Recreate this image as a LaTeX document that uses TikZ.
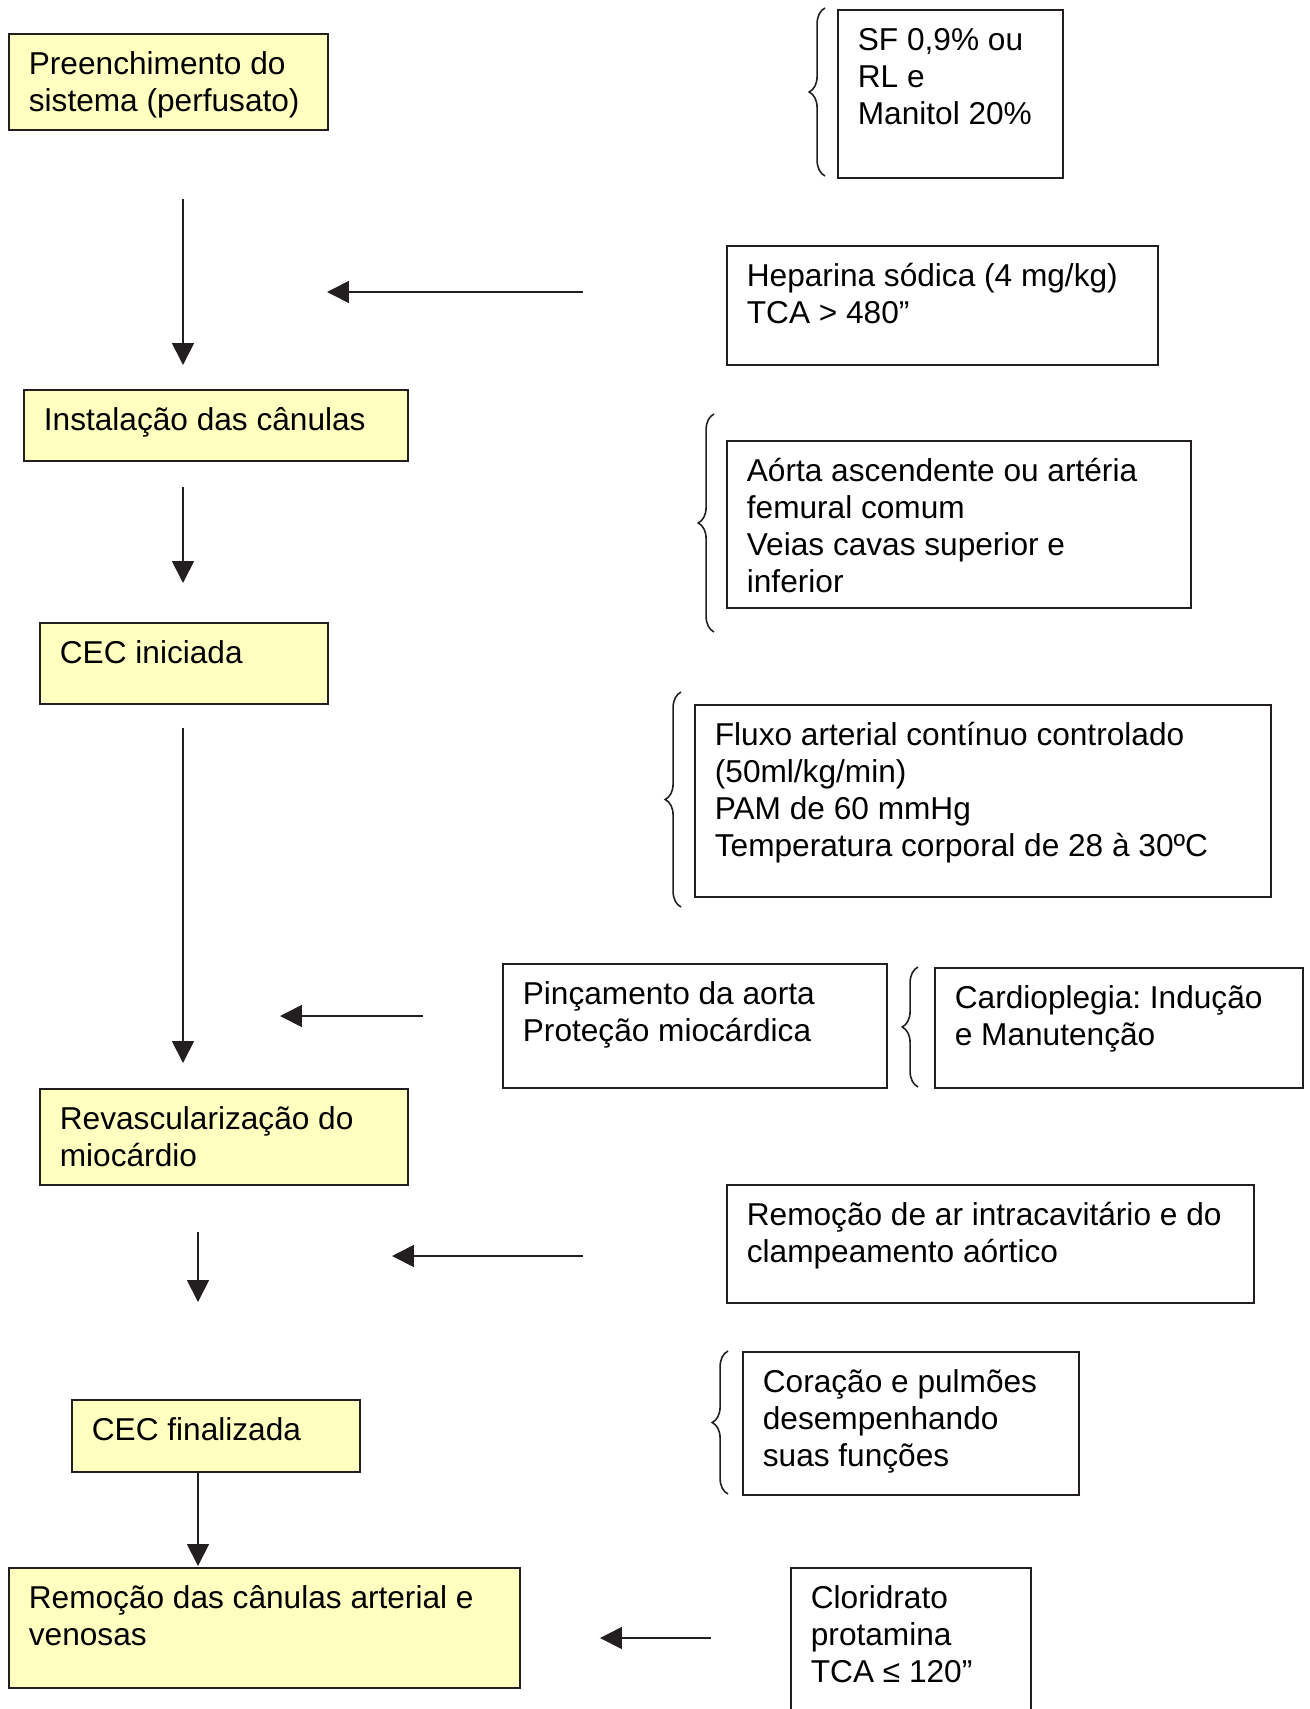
\documentclass[tikz,border=0pt]{standalone}
\usepackage{fontspec}
\setmainfont{Liberation Sans}
\usetikzlibrary{arrows.meta,decorations.pathreplacing}
\definecolor{boxyellow}{RGB}{255,255,192}
\definecolor{linegray}{RGB}{35,31,32}
\newlength\pxu
\setlength\pxu{0.02cm}
\newcommand{\boxtext}[3]{\parbox[t][\dimexpr#2\pxu-0.6cm\relax][t]{\dimexpr#1\pxu-0.8cm\relax}{\raggedright\frenchspacing\strut#3}}

\begin{document}
\begin{tikzpicture}[x=0.02cm, y=-0.02cm,
  notebox/.style={draw=linegray, line width=1pt, anchor=north west, inner xsep=0.4cm, inner ysep=0.3cm, font=\fontsize{18}{21}\selectfont},
  stage/.style={notebox, fill=boxyellow},
  flow/.style={draw=linegray, line width=1pt, -{Triangle[length=12.5pt,width=12.5pt]}},
  brc/.style={draw=linegray, line width=0.9pt, decorate, decoration={brace, amplitude=9pt}}]
\useasboundingbox (0,0) rectangle (1310,1709);

% etapas
\node[stage] (preench) at (8,33) {\boxtext{319}{96}{Preenchimento do\\sistema (perfusato)}};
\node[stage] (instal) at (23,389) {\boxtext{384}{71}{Instalação das cânulas}};
\node[stage] (cecini) at (39,622) {\boxtext{288}{81}{CEC iniciada}};
\node[stage] (revasc) at (39,1088) {\boxtext{368}{96}{Revascularização do\\miocárdio}};
\node[stage] (cecfim) at (71,1399) {\boxtext{288}{72}{CEC finalizada}};
\node[stage] (remcan) at (8,1567) {\boxtext{511}{120}{Remoção das cânulas arterial e\\venosas}};

% notas
\node[notebox] (sfbox) at (837,9) {\boxtext{225}{168}{SF 0,9\% ou\\RL e\\Manitol 20\%}};
\node[notebox] (heparina) at (726,245) {\boxtext{431}{119}{Heparina sódica (4 mg/kg)\\TCA > 480”}};
\node[notebox] (aorta) at (726,440) {\boxtext{464}{167}{Aórta ascendente ou artéria\\femural comum\\Veias cavas superior e\\inferior}};
\node[notebox] (fluxo) at (694,704) {\boxtext{576}{192}{Fluxo arterial contínuo controlado\\(50ml/kg/min)\\PAM de 60 mmHg\\Temperatura corporal de 28 à 30ºC}};
\node[notebox] (pincam) at (502,963) {\boxtext{384}{124}{Pinçamento da aorta\\Proteção miocárdica}};
\node[notebox] (cardio) at (934,967) {\boxtext{368}{120}{Cardioplegia: Indução\\e Manutenção}};
\node[notebox] (remar) at (726,1184) {\boxtext{527}{118}{Remoção de ar intracavitário e do\\clampeamento aórtico}};
\node[notebox] (coracao) at (742,1351) {\boxtext{336}{143}{Coração e pulmões\\desempenhando\\suas funções}};
\node[notebox] (clorid) at (790,1567) {\boxtext{240}{170}{Cloridrato\\protamina\\TCA ≤ 120”}};

% chaves
\draw[brc] (825,176) -- (825,8);
\draw[brc] (714,632) -- (714,414);
\draw[brc] (681,907) -- (681,692);
\draw[brc] (918,1087) -- (918,967);
\draw[brc] (728,1494) -- (728,1351);

% setas
\coordinate (d1a) at (183,199);  \coordinate (d1b) at (183,365);
\coordinate (d2a) at (183,487);  \coordinate (d2b) at (183,583);
\coordinate (d3a) at (183,728);  \coordinate (d3b) at (183,1063);
\coordinate (d4a) at (198,1232); \coordinate (d4b) at (198,1302);
\coordinate (d5b) at (198,1566);
\coordinate (h1a) at (583,292);  \coordinate (h1b) at (327,292);
\coordinate (h2a) at (423,1016); \coordinate (h2b) at (280,1016);
\coordinate (h3a) at (583,1256); \coordinate (h3b) at (392,1256);
\coordinate (h4a) at (711,1638); \coordinate (h4b) at (600,1638);

\draw[flow] (d1a) -- (d1b);
\draw[flow] (d2a) -- (d2b);
\draw[flow] (d3a) -- (d3b);
\draw[flow] (d4a) -- (d4b);
\draw[flow] (cecfim.south -| d5b) -- (d5b);
\draw[flow] (h1a) -- (h1b);
\draw[flow] (h2a) -- (h2b);
\draw[flow] (h3a) -- (h3b);
\draw[flow] (h4a) -- (h4b);
\end{tikzpicture}
\end{document}
